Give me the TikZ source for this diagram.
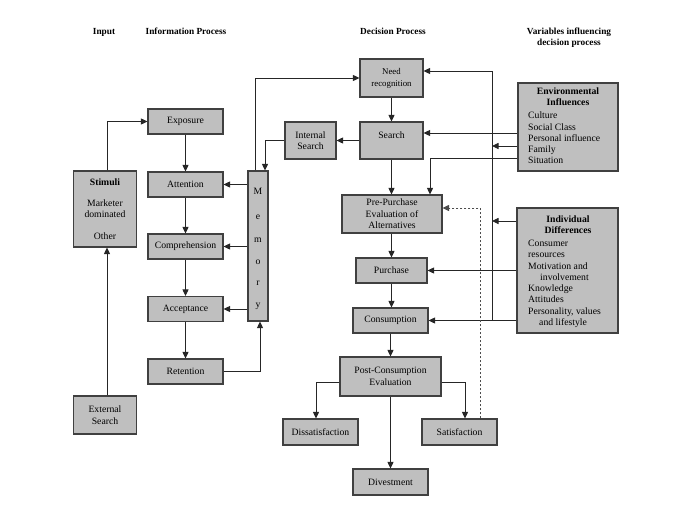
\documentclass[tikz,border=0pt]{standalone}
\usepackage{fontspec}
\setmainfont{Liberation Serif}
\usetikzlibrary{arrows.meta}
\begin{document}
\begin{tikzpicture}[x=1pt,y=-1pt,
 box/.style={draw=black!75, line width=1.1pt, fill=black!25, align=center, inner sep=0pt, font=\fontsize{9.7}{11.5}\selectfont},
 lbl/.style={inner sep=0pt, font=\fontsize{9.7}{11.5}\selectfont, text height=6.8pt, text depth=2pt},
 tlbl/.style={lbl, font=\bfseries\fontsize{9.7}{11.5}\selectfont},
 hdr/.style={inner sep=0pt, font=\bfseries\fontsize{9.3}{11}\selectfont, text height=6.5pt, text depth=2pt},
 arr/.style={draw=black!85, line width=0.9pt, -{Triangle[length=6.5pt,width=6pt]}},
 ln/.style={draw=black!85, line width=0.9pt},
 dsh/.style={draw=black!70, line width=1pt, dash pattern=on 2.5pt off 1.5pt, -{Triangle[length=6.5pt,width=6pt]}}
]
\useasboundingbox (0,0) rectangle (685,514);

% headers
\node[hdr] (h1) at (104,32) {Input};
\node[hdr] (h2) at (186,32) {Information Process};
\node[hdr] (h3) at (393,32) {Decision Process};
\node[hdr] (h4) at (569,32) {Variables influencing};
\node[hdr] (h5) at (569,43) {decision process};

% input
\node[box, minimum width=63pt, minimum height=76pt] (stimuli) at (105,209)
 {\textbf{Stimuli}\\[9.5pt]Marketer\\dominated\\[10.5pt]Other};
\node[box, minimum width=63pt, minimum height=38pt] (extsearch) at (105,415) {External\\Search};

% information process
\node[box, minimum width=75pt, minimum height=25pt] (exposure) at (185.5,121.5) {Exposure};
\node[box, minimum width=75pt, minimum height=25pt] (attention) at (185.5,184.5) {Attention};
\node[box, minimum width=75pt, minimum height=25pt] (comprehension) at (185.5,246.5) {Comprehension};
\node[box, minimum width=75pt, minimum height=25pt] (acceptance) at (185.5,309) {Acceptance};
\node[box, minimum width=75pt, minimum height=25pt] (retention) at (185.5,371.5) {Retention};

% memory
\node[box, minimum width=20pt, minimum height=150pt] (memory) at (258,246) {};
\foreach \l/\yy/\n in {M/192/1, e/217/2, m/240/3, o/262/4, r/283/5, y/305/6}
  \node[lbl] (mem\n) at (258,\yy) {\l};

% decision process
\node[box, minimum width=51pt, minimum height=37pt] (internal) at (310.5,140.5) {Internal\\Search};
\node[box, minimum width=63pt, minimum height=38pt, font=\fontsize{8.8}{12}\selectfont] (need) at (391.5,78) {Need\\recognition};
\node[box, minimum width=63pt, minimum height=37pt] (search) at (391.5,140.5) {Search\\~};
\node[box, minimum width=100pt, minimum height=38pt] (prepurchase) at (392,214) {Pre-Purchase\\Evaluation of\\Alternatives};
\node[box, minimum width=71pt, minimum height=25pt] (purchase) at (391.5,270.5) {Purchase};
\node[box, minimum width=75pt, minimum height=25pt] (consumption) at (390.5,320.5) {Consumption};
\node[box, minimum width=101pt, minimum height=39pt] (post) at (390.5,376.5) {Post-Consumption\\Evaluation};
\node[box, minimum width=75pt, minimum height=26pt] (dissat) at (320.5,432) {Dissatisfaction};
\node[box, minimum width=75pt, minimum height=26pt] (satis) at (459.5,432) {Satisfaction};
\node[box, minimum width=75pt, minimum height=26pt] (divest) at (390.5,482) {Divestment};

% variables
\node[box, minimum width=100pt, minimum height=88pt] (env) at (568,127) {};
\node[tlbl] (envt1) at (568,92) {Environmental};
\node[tlbl] (envt2) at (568,103) {Influences};
\foreach \t/\yy/\n in {Culture/116/1, Social Class/128/2, Personal influence/139/3, Family/150/4, Situation/161/5}
  \node[lbl, anchor=west] (envl\n) at (528,\yy) {\t};

\node[box, minimum width=101pt, minimum height=125pt] (ind) at (567.5,270.5) {};
\node[tlbl] (indt1) at (568,220) {Individual};
\node[tlbl] (indt2) at (568,231) {Differences};
\foreach \t/\xx/\yy/\n in {Consumer/528/244/1, resources/528/255.3/2, Motivation and/528/266.6/3, involvement/540/277.9/4, Knowledge/528/289.2/5, Attitudes/528/300.5/6, {Personality, values}/528/311.8/7, and lifestyle/539/323.1/8}
  \node[lbl, anchor=west] (indl\n) at (\xx,\yy) {\t};

% input connectors
\draw[arr] ([xshift=2pt]stimuli.north) |- (exposure.west);
\draw[arr] ([xshift=2pt]extsearch.north) -- ([xshift=2pt]stimuli.south);

% information process connectors
\draw[arr] (exposure) -- (attention);
\draw[arr] (attention) -- (comprehension);
\draw[arr] (comprehension) -- (acceptance);
\draw[arr] (acceptance) -- (retention);
\draw[arr] (attention.east -| memory.west) -- (attention.east);
\draw[arr] (comprehension.east -| memory.west) -- (comprehension.east);
\draw[arr] (acceptance.east -| memory.west) -- (acceptance.east);
\draw[arr] (retention.east) -| ([xshift=2pt]memory.south);
\draw[arr] ([xshift=-3pt]memory.north) |- (need.west);
\draw[arr] (internal.west) -| ([xshift=7pt]memory.north);

% decision process connectors
\draw[arr] (need) -- (search);
\draw[arr] (search) -- (internal);
\draw[arr] (search.south) -- (prepurchase.north -| search.south);
\draw[arr] (prepurchase.south -| purchase.north) -- (purchase.north);
\draw[arr] (purchase) -- (consumption.north -| purchase.south);
\draw[arr] (consumption.south) -- (post.north -| consumption.south);
\draw[arr] (post.south) -- (divest.north);
\coordinate (pl) at ([yshift=-5.5pt]post.west);
\coordinate (pr) at ([yshift=-5.5pt]post.east);
\draw[arr] (pl) -| ([xshift=-4.5pt]dissat.north);
\draw[arr] (pr) -| ([xshift=5.5pt]satis.north);

% variables connectors
\coordinate (vt) at (492,71);
\coordinate (vb) at (492,320.5);
\coordinate (ve) at (492,146);
\coordinate (vi) at (492,221);
\draw[ln] (vb) -- (vt);
\draw[arr] (vt) -- (vt -| need.east);
\coordinate (se) at ([yshift=7.5pt]search.east);
\draw[arr] (env.west |- se) -- (se);
\draw[arr] (env.west |- ve) -- (ve);
\coordinate (pp) at ([xshift=38pt]prepurchase.north);
\coordinate (ey) at (0,158);
\draw[arr] (env.west |- ey) -| (pp);
\draw[arr] (ind.west |- vi) -- (vi);
\draw[arr] (ind.west |- purchase) -- (purchase.east);
\draw[arr] (ind.west |- consumption) -- (consumption.east);

% feedback
\coordinate (sd) at ([xshift=20.5pt]satis.north);
\coordinate (pd) at ([yshift=6pt]prepurchase.east);
\draw[dsh] (sd) |- (pd);
\end{tikzpicture}
\end{document}
